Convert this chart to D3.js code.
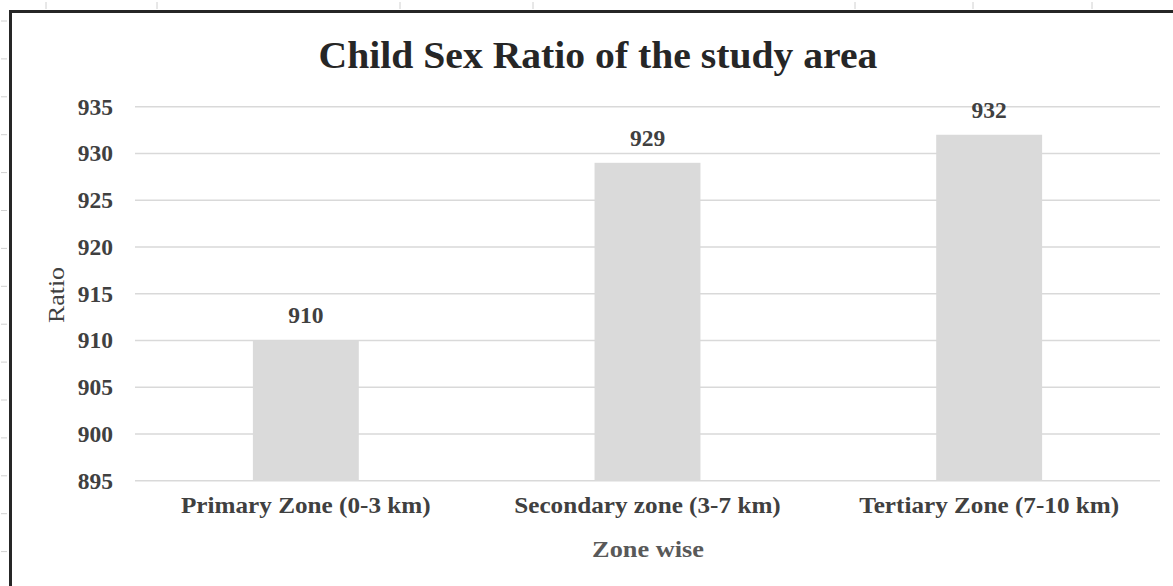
<!DOCTYPE html>
<html><head><meta charset="utf-8">
<script src="https://cdn.jsdelivr.net/npm/d3@7"></script>
<style>html,body{margin:0;padding:0;background:#fff;}svg{display:block;}</style>
</head><body>
<script>
const categories = ["Primary Zone (0-3 km)", "Secondary zone (3-7 km)", "Tertiary Zone (7-10 km)"];
const values = [910, 929, 932];
const yTicks = [895, 900, 905, 910, 915, 920, 925, 930, 935];
const title = "Child Sex Ratio of the study area";
const xTitle = "Zone wise";
const yTitle = "Ratio";

const W = 1173, H = 586;
const svg = d3.select("body").append("svg").attr("width", W).attr("height", H);
const font = "'Liberation Serif','Times New Roman',serif";

// spreadsheet background ticks
const topTicks = [46, 157, 400, 533, 855, 973, 1092];
svg.selectAll(".tt").data(topTicks).enter().append("line")
  .attr("x1", d => d).attr("x2", d => d).attr("y1", 2).attr("y2", 9)
  .attr("stroke", "#d0d0d0").attr("stroke-width", 1);
svg.selectAll(".lt").data(d3.range(15)).enter().append("line")
  .attr("x1", 1).attr("x2", 7).attr("y1", d => 21 + d * 37.9).attr("y2", d => 21 + d * 37.9)
  .attr("stroke", "#d0d0d0").attr("stroke-width", 1);

// chart border
svg.append("rect").attr("x", 10.5).attr("y", 11.5).attr("width", W + 20).attr("height", H + 20)
  .attr("fill", "#fff").attr("stroke", "#262626").attr("stroke-width", 3);

const m = {left: 135, right: 1160, top: 106.7, bottom: 480.7};
const x = d3.scaleBand().domain(categories).range([m.left, m.right]).paddingInner(0.69).paddingOuter(0.345);
const y = d3.scaleLinear().domain([895, 935]).range([m.bottom, m.top]);

// gridlines
svg.append("g").selectAll("line").data(yTicks).enter().append("line")
  .attr("x1", m.left).attr("x2", m.right)
  .attr("y1", d => y(d)).attr("y2", d => y(d))
  .attr("stroke", "#d9d9d9").attr("stroke-width", 1.5);

// bars
svg.append("g").selectAll("rect").data(values).enter().append("rect")
  .attr("x", (d, i) => x(categories[i])).attr("width", x.bandwidth())
  .attr("y", d => y(d)).attr("height", d => y(895) - y(d))
  .attr("fill", "#dadada");

// y axis labels
const yAxis = d3.axisLeft(y).tickValues(yTicks).tickSize(0).tickPadding(22);
const gy = svg.append("g").attr("transform", `translate(${m.left},0)`).call(yAxis);
gy.select(".domain").remove();
gy.selectAll("text").attr("font-family", font).attr("font-weight", "bold").attr("font-size", 23.5)
  .attr("fill", "#404040");

// x axis labels
const xAxis = d3.axisBottom(x).tickSize(0).tickPadding(16);
const gx = svg.append("g").attr("transform", `translate(0,${m.bottom})`).call(xAxis);
gx.select(".domain").remove();
gx.selectAll("text").attr("font-family", font).attr("font-weight", "bold").attr("font-size", 22.5)
  .attr("fill", "#404040").attr("transform", "scale(1.12,1)");

// data labels
svg.append("g").selectAll("text").data(values).enter().append("text")
  .attr("x", (d, i) => x(categories[i]) + x.bandwidth() / 2)
  .attr("y", d => y(d) - 17)
  .attr("text-anchor", "middle")
  .attr("font-family", font).attr("font-weight", "bold").attr("font-size", 23.5)
  .attr("fill", "#404040").text(d => d);

// title
svg.append("text").attr("transform", "translate(598,68) scale(1.03,1)").attr("text-anchor", "middle")
  .attr("font-family", font).attr("font-weight", "bold").attr("font-size", 38.5)
  .attr("fill", "#262626").text(title);

// axis titles
svg.append("text").attr("transform", "translate(648,557) scale(1.12,1)").attr("text-anchor", "middle")
  .attr("font-family", font).attr("font-weight", "bold").attr("font-size", 23.5)
  .attr("fill", "#595959").text(xTitle);
svg.append("text").attr("transform", "translate(64,295) rotate(-90) scale(1.1,1)").attr("text-anchor", "middle")
  .attr("font-family", font).attr("font-size", 23.5)
  .attr("fill", "#404040").text(yTitle);
</script>
</body></html>
